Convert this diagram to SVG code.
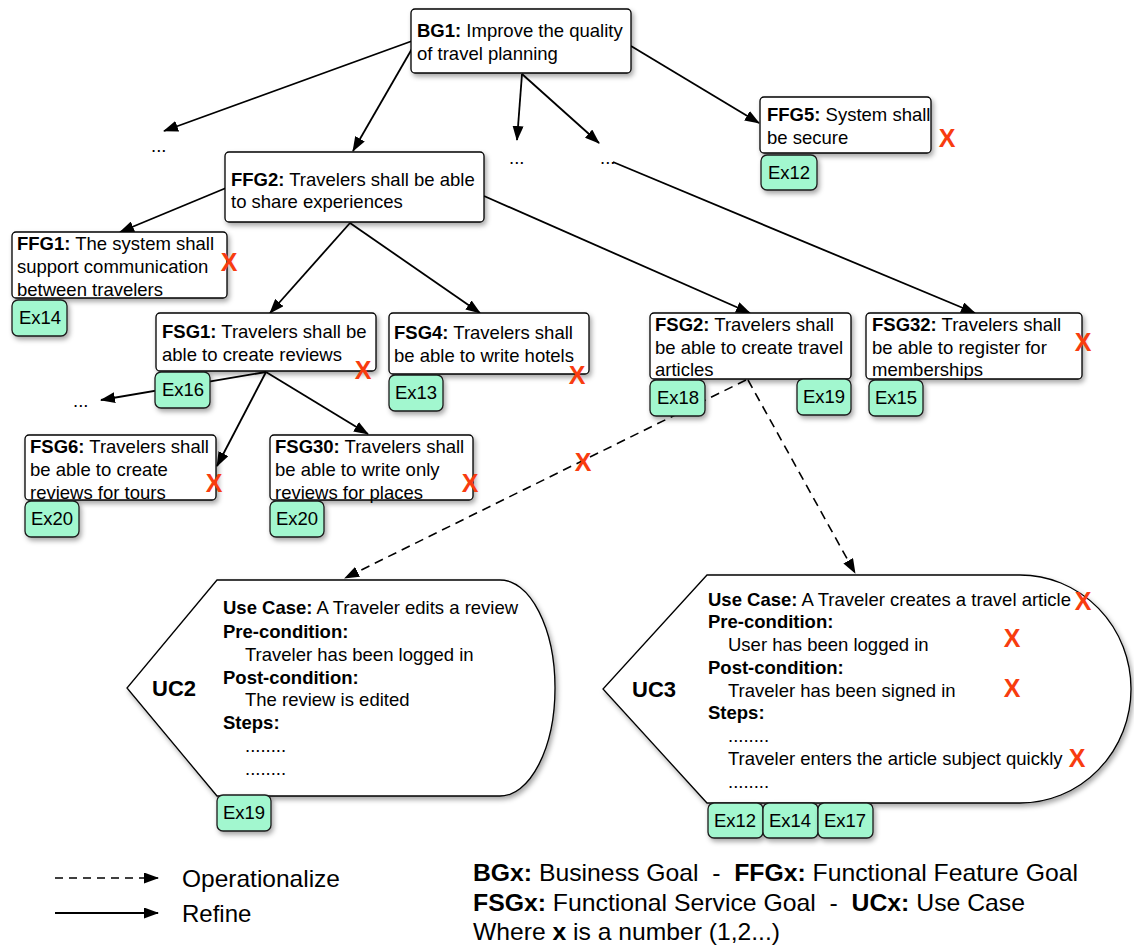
<svg xmlns="http://www.w3.org/2000/svg" width="1134" height="947" viewBox="0 0 1134 947">
  <style>
    text { font-family: "Liberation Sans", Arial, sans-serif; font-size: 18.5px; fill: #000; }
    .b { font-weight: bold; }
    .box { fill: #fff; stroke: #000; stroke-width: 1.3; }
    .ex { fill: #a2f7cf; stroke: #1a1a1a; stroke-width: 1.3; }
    .ext { text-anchor: middle; }
    .x { font-weight: bold; font-size: 25px; fill: #f83c0f; text-anchor: middle; }
    .refine { stroke: #000; stroke-width: 1.8; fill: none; marker-end: url(#ah); }
    .oper { stroke: #000; stroke-width: 1.6; fill: none; stroke-dasharray: 9 6; marker-end: url(#ah); }
    .uc { fill: #fff; stroke: #000; stroke-width: 1.3; }
    .uct { font-weight: bold; font-size: 22px; }
    .leg { font-size: 24px; white-space: pre; }
  </style>
  <defs>
    <marker id="ah" markerUnits="userSpaceOnUse" markerWidth="15" markerHeight="11" refX="14" refY="5.5" orient="auto">
      <path d="M0,0 L15,5.5 L0,11 z" fill="#000"/>
    </marker>
    <filter id="sh" x="-10%" y="-10%" width="130%" height="140%">
      <feDropShadow dx="2" dy="3" stdDeviation="2.5" flood-color="#000" flood-opacity="0.35"/>
    </filter>
  </defs>

  <rect width="1134" height="947" fill="#fff"/>

  <!-- refinement and operationalization links -->
  <g id="connectors">
    <line class="refine" x1="412" y1="41" x2="164" y2="131"/>
    <line class="refine" x1="413" y1="47" x2="353" y2="151"/>
    <line class="refine" x1="522" y1="74" x2="517" y2="140"/>
    <line class="refine" x1="522" y1="74" x2="599" y2="143"/>
    <line class="refine" x1="631" y1="46" x2="759" y2="123"/>
    <line class="refine" x1="613" y1="162" x2="975" y2="313"/>
    <line class="refine" x1="226" y1="188" x2="120" y2="232"/>
    <line class="refine" x1="350" y1="223" x2="270" y2="313"/>
    <line class="refine" x1="350" y1="223" x2="480" y2="313"/>
    <line class="refine" x1="484" y1="196" x2="750" y2="313"/>
    <line class="refine" x1="266" y1="372" x2="101" y2="400"/>
    <line class="refine" x1="266" y1="372" x2="217" y2="466"/>
    <line class="refine" x1="266" y1="372" x2="368" y2="434"/>
    <line class="oper" x1="746" y1="380" x2="345" y2="578"/>
    <line class="oper" x1="748" y1="380" x2="855" y2="573"/>
    <text class="x" x="583" y="471">X</text>
  </g>

  <!-- open branches -->
  <g id="more">
    <text x="151" y="152">...</text>
    <text x="509" y="164">...</text>
    <text x="600" y="164">...</text>
    <text x="73" y="407">...</text>
  </g>

  <g id="BG1">
    <rect class="box" filter="url(#sh)" x="411" y="9" width="220" height="64" rx="4"/>
    <text x="417" y="37"><tspan class="b">BG1:</tspan> Improve the quality</text>
    <text x="417" y="60">of travel planning</text>
  </g>

  <g id="FFG5">
    <rect class="box" filter="url(#sh)" x="760" y="97" width="171" height="56" rx="4"/>
    <text x="767" y="121"><tspan class="b">FFG5:</tspan> System shall</text>
    <text x="767" y="144">be secure</text>
    <text class="x" x="947" y="147">X</text>
    <rect class="ex" filter="url(#sh)" x="761" y="155" width="56" height="35" rx="6"/>
    <text class="ext" x="789" y="179">Ex12</text>
  </g>

  <g id="FFG2">
    <rect class="box" filter="url(#sh)" x="225" y="152" width="259" height="70" rx="4"/>
    <text x="231" y="186"><tspan class="b">FFG2:</tspan> Travelers shall be able</text>
    <text x="231" y="208">to share experiences</text>
  </g>

  <g id="FFG1">
    <rect class="box" filter="url(#sh)" x="12" y="232" width="215" height="66" rx="4"/>
    <text x="17" y="250"><tspan class="b">FFG1:</tspan> The system shall</text>
    <text x="17" y="273">support communication</text>
    <text x="17" y="296">between travelers</text>
    <text class="x" x="229" y="271">X</text>
    <rect class="ex" filter="url(#sh)" x="12" y="300" width="55" height="36" rx="6"/>
    <text class="ext" x="40" y="324">Ex14</text>
  </g>

  <g id="FSG1">
    <rect class="box" filter="url(#sh)" x="156" y="313" width="220" height="58" rx="4"/>
    <text x="162" y="338"><tspan class="b">FSG1:</tspan> Travelers shall be</text>
    <text x="162" y="361">able to create reviews</text>
    <text class="x" x="363" y="379">X</text>
    <rect class="ex" filter="url(#sh)" x="155" y="372" width="55" height="36" rx="6"/>
    <text class="ext" x="183" y="396">Ex16</text>
  </g>

  <g id="FSG4">
    <rect class="box" filter="url(#sh)" x="389" y="313" width="200" height="61" rx="4"/>
    <text x="394" y="339"><tspan class="b">FSG4:</tspan> Travelers shall</text>
    <text x="394" y="362">be able to write hotels</text>
    <text class="x" x="577" y="384">X</text>
    <rect class="ex" filter="url(#sh)" x="389" y="375" width="54" height="36" rx="6"/>
    <text class="ext" x="416" y="399">Ex13</text>
  </g>

  <g id="FSG2">
    <rect class="box" filter="url(#sh)" x="650" y="313" width="201" height="66" rx="4"/>
    <text x="655" y="331"><tspan class="b">FSG2:</tspan> Travelers shall</text>
    <text x="655" y="354">be able to create travel</text>
    <text x="655" y="376">articles</text>
    <rect class="ex" filter="url(#sh)" x="650" y="380" width="55" height="36" rx="6"/>
    <text class="ext" x="678" y="404">Ex18</text>
    <rect class="ex" filter="url(#sh)" x="797" y="379" width="54" height="36" rx="6"/>
    <text class="ext" x="824" y="403">Ex19</text>
  </g>

  <g id="FSG32">
    <rect class="box" filter="url(#sh)" x="866" y="313" width="216" height="66" rx="4"/>
    <text x="872" y="331"><tspan class="b">FSG32:</tspan> Travelers shall</text>
    <text x="872" y="354">be able to register for</text>
    <text x="872" y="376">memberships</text>
    <text class="x" x="1083" y="351">X</text>
    <rect class="ex" filter="url(#sh)" x="869" y="380" width="54" height="36" rx="6"/>
    <text class="ext" x="896" y="404">Ex15</text>
  </g>

  <g id="FSG6">
    <rect class="box" filter="url(#sh)" x="25" y="435" width="191" height="65" rx="4"/>
    <text x="30" y="453"><tspan class="b">FSG6:</tspan> Travelers shall</text>
    <text x="30" y="476">be able to create</text>
    <text x="30" y="499">reviews for tours</text>
    <text class="x" x="214" y="492">X</text>
    <rect class="ex" filter="url(#sh)" x="25" y="501" width="54" height="36" rx="6"/>
    <text class="ext" x="52" y="525">Ex20</text>
  </g>

  <g id="FSG30">
    <rect class="box" filter="url(#sh)" x="270" y="435" width="203" height="65" rx="4"/>
    <text x="275" y="453"><tspan class="b">FSG30:</tspan> Travelers shall</text>
    <text x="275" y="476">be able to write only</text>
    <text x="275" y="499">reviews for places</text>
    <text class="x" x="470" y="492">X</text>
    <rect class="ex" filter="url(#sh)" x="270" y="501" width="54" height="36" rx="6"/>
    <text class="ext" x="297" y="525">Ex20</text>
  </g>

  <g id="UC2">
    <path class="uc" filter="url(#sh)" d="M217,580 L500,580 A55,108 0 0 1 500,796 L217,796 L127,688 Z"/>
    <text class="uct" x="152" y="696">UC2</text>
    <text x="223" y="614"><tspan class="b">Use Case:</tspan> A Traveler edits a review</text>
    <text x="223" y="638" class="b">Pre-condition:</text>
    <text x="245" y="661">Traveler has been logged in</text>
    <text x="223" y="684" class="b">Post-condition:</text>
    <text x="245" y="706">The review is edited</text>
    <text x="223" y="729" class="b">Steps:</text>
    <text x="245" y="752">........</text>
    <text x="245" y="775">........</text>
    <rect class="ex" filter="url(#sh)" x="217" y="795" width="54" height="36" rx="6"/>
    <text class="ext" x="244" y="819">Ex19</text>
  </g>

  <g id="UC3">
    <path class="uc" filter="url(#sh)" d="M707,575 L1020,575 A111,114 0 0 1 1020,803 L707,803 L603,689 Z"/>
    <text class="uct" x="632" y="697">UC3</text>
    <text x="708" y="606"><tspan class="b">Use Case:</tspan> A Traveler creates a travel article</text>
    <text x="708" y="628" class="b">Pre-condition:</text>
    <text x="728" y="651">User has been logged in</text>
    <text x="708" y="674" class="b">Post-condition:</text>
    <text x="728" y="697">Traveler has been signed in</text>
    <text x="708" y="719" class="b">Steps:</text>
    <text x="728" y="742">........</text>
    <text x="728" y="765">Traveler enters the article subject quickly</text>
    <text x="728" y="788">........</text>
    <text class="x" x="1083" y="610">X</text>
    <text class="x" x="1012" y="647">X</text>
    <text class="x" x="1012" y="697">X</text>
    <text class="x" x="1077" y="767">X</text>
    <rect class="ex" filter="url(#sh)" x="708" y="803" width="55" height="35" rx="6"/>
    <text class="ext" x="735" y="827">Ex12</text>
    <rect class="ex" filter="url(#sh)" x="763" y="803" width="55" height="35" rx="6"/>
    <text class="ext" x="790" y="827">Ex14</text>
    <rect class="ex" filter="url(#sh)" x="818" y="803" width="55" height="35" rx="6"/>
    <text class="ext" x="845" y="827">Ex17</text>
  </g>

  <g id="legend">
    <line class="oper" x1="55" y1="878" x2="158" y2="878" style="stroke-dasharray:8 6"/>
    <text class="leg" x="182" y="887" textLength="158" lengthAdjust="spacingAndGlyphs">Operationalize</text>
    <line class="refine" x1="55" y1="913" x2="158" y2="913"/>
    <text class="leg" x="182" y="922">Refine</text>
    <text class="leg" x="473" y="881" textLength="605" lengthAdjust="spacingAndGlyphs"><tspan class="b">BGx:</tspan> Business Goal  -  <tspan class="b">FFGx:</tspan> Functional Feature Goal</text>
    <text class="leg" x="473" y="911" textLength="552" lengthAdjust="spacingAndGlyphs"><tspan class="b">FSGx:</tspan> Functional Service Goal  -  <tspan class="b">UCx:</tspan> Use Case</text>
    <text class="leg" x="473" y="940" textLength="307" lengthAdjust="spacingAndGlyphs">Where <tspan class="b">x</tspan> is a number (1,2...)</text>
  </g>
</svg>
